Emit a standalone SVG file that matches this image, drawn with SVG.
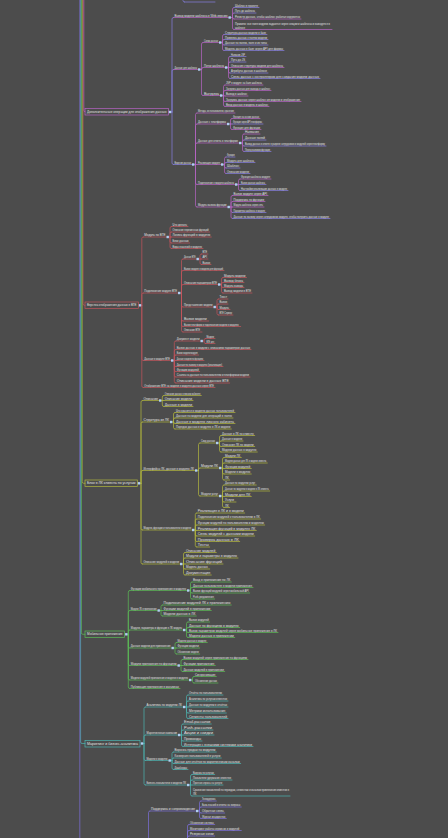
<svg xmlns="http://www.w3.org/2000/svg" width="448" height="838" viewBox="0 0 448 838">
<style>
text{font-family:"Liberation Sans","DejaVu Sans",sans-serif;font-size:2.9px;fill:#e2e2e2}
.rt{font-size:3.3px}
path{fill:none;stroke-width:0.7;stroke-linecap:round}
rect.b{fill:none;stroke-width:0.7}
.c1{stroke:#b864c6}.v1{stroke:#8680e2}.c2{stroke:#c4555c}.c3{stroke:#b3b83e}.c4{stroke:#5cbc56}.c5{stroke:#4cb5b1}.c6{stroke:#7d70dc}
.dot{fill:#b0cff2}
</style>
<rect x="0" y="0" width="448" height="838" fill="#4c4c4c"/>
<g id="connectors">
<path class="c1" d="M83.8,0V110.3Q83.8,111.8 85,111.8"/>
<path class="c2" d="M83,0V303.8Q83,305.3 84.5,305.3H85"/>
<path class="c3" d="M82.2,0V481.8Q82.2,483.3 83.7,483.3H85"/>
<path class="c4" d="M81.4,0V632.8Q81.4,634.3 82.9,634.3H85"/>
<path class="c5" d="M80.6,0V742Q80.6,743.5 82.1,743.5H85"/>
<path class="c6" d="M79.8,0V838"/>
<path class="v1" d="M183,0V0.5Q183,2 184.5,2"/>
<path class="v1" d="M171.2,112H172 M172,112V19Q172,17.5 173.5,17.5 M172,112V71Q172,69.5 173.5,69.5 M172,112V163Q172,164.5 173.5,164.5"/>
<path class="c1" d="M230.9,17.5H232.5 M232.5,17.5V9Q232.5,7.5 234,7.5 M232.5,17.5V14.5Q232.5,13 234,13 M232.5,17.5Q232.5,19 234,19 M232.5,17.5V28Q232.5,29.5 234,29.5"/>
<path class="c1" d="M200.4,69.5H201.5 M201.5,69.5V44Q201.5,42.5 203,42.5 M201.5,69.5Q201.5,67.5 203,67.5 M201.5,69.5V94Q201.5,95.5 203,95.5"/>
<path class="c1" d="M221.4,42.5H222.5 M222.5,42.5V36Q222.5,34.5 224,34.5 M222.5,42.5V41Q222.5,39.5 224,39.5 M222.5,42.5V43.5Q222.5,45 224,45 M222.5,42.5V49Q222.5,50.5 224,50.5"/>
<path class="c1" d="M227.4,67.5H228.5 M228.5,67.5V58Q228.5,56.5 230,56.5 M228.5,67.5V63.5Q228.5,62 230,62 M228.5,67.5H230 M228.5,67.5V71.5Q228.5,73 230,73 M228.5,67.5V77Q228.5,78.5 230,78.5"/>
<path class="c1" d="M222.4,95.5H223.5 M223.5,95.5V86.5Q223.5,85 225,85 M223.5,95.5V92Q223.5,90.5 225,90.5 M223.5,95.5Q223.5,96 225,96 M223.5,95.5V100Q223.5,101.5 225,101.5 M223.5,95.5V105Q223.5,106.5 225,106.5"/>
<path class="c1" d="M194.4,164.5H195.5 M195.5,164.5V114.5Q195.5,113 197,113 M195.5,164.5V125.5Q195.5,124 197,124 M195.5,164.5V144.5Q195.5,143 197,143 M195.5,164.5H197 M195.5,164.5V183Q195.5,184.5 197,184.5 M195.5,164.5V205.5Q195.5,207 197,207"/>
<path class="c1" d="M229.4,124H230.5 M230.5,124V120Q230.5,118.5 232,118.5 M230.5,124H232 M230.5,124V128Q230.5,129.5 232,129.5"/>
<path class="c1" d="M241.4,143H242.5 M242.5,143V135.5Q242.5,134 244,134 M242.5,143V141.5Q242.5,140 244,140 M242.5,143V144.5Q242.5,146 244,146 M242.5,143V150Q242.5,151.5 244,151.5"/>
<path class="c1" d="M223.4,164.5H224.5 M224.5,164.5V158.5Q224.5,157 226,157 M224.5,164.5V164Q224.5,162.5 226,162.5 M224.5,164.5V166.5Q224.5,168 226,168 M224.5,164.5V172Q224.5,173.5 226,173.5"/>
<path class="c1" d="M237.4,184.5H238.5 M238.5,184.5V180.5Q238.5,179 240,179 M238.5,184.5H240 M238.5,184.5V189Q238.5,190.5 240,190.5"/>
<path class="c1" d="M229.9,207H231 M231,207V197Q231,195.5 232.5,195.5 M231,207V203Q231,201.5 232.5,201.5 M231,207H232.5 M231,207V211Q231,212.5 232.5,212.5 M231,207V217Q231,218.5 232.5,218.5"/>
<path class="c2" d="M141.2,305.3H141.8 M141.8,305.3V238.5Q141.8,237 143.3,237 M141.8,305.3V294.5Q141.8,293 143.3,293 M141.8,305.3V359Q141.8,360.5 143.3,360.5 M141.8,305.3V386Q141.8,387.5 143.3,387.5"/>
<path class="c2" d="M168.9,237H170 M170,237V228Q170,226.5 171.5,226.5 M170,237V233.5Q170,232 171.5,232 M170,237H171.5 M170,237V241.5Q170,243 171.5,243 M170,237V247Q170,248.5 171.5,248.5"/>
<path class="c2" d="M180.4,293H181.5 M181.5,293V260.5Q181.5,259 183,259 M181.5,293V272Q181.5,270.5 183,270.5 M181.5,293V286Q181.5,284.5 183,284.5 M181.5,293V305.5Q181.5,307 183,307 M181.5,293V319.5Q181.5,321 183,321 M181.5,293V325Q181.5,326.5 183,326.5 M181.5,293V330.5Q181.5,332 183,332"/>
<path class="c2" d="M198.9,259H200 M200,259V255.5Q200,254 201.5,254 M200,259H201.5 M200,259V263Q200,264.5 201.5,264.5"/>
<path class="c2" d="M220.4,284.5H221.5 M221.5,284.5V279Q221.5,277.5 223,277.5 M221.5,284.5V284Q221.5,282.5 223,282.5 M221.5,284.5V286Q221.5,287.5 223,287.5 M221.5,284.5V291.5Q221.5,293 223,293"/>
<path class="c2" d="M215.9,307H217 M217,307V300.5Q217,299 218.5,299 M217,307V305.5Q217,304 218.5,304 M217,307V308Q217,309.5 218.5,309.5 M217,307V313.5Q217,315 218.5,315"/>
<path class="c2" d="M173.4,360.5H174.3 M174.3,360.5V342.5Q174.3,341 175.8,341 M174.3,360.5V351Q174.3,349.5 175.8,349.5 M174.3,360.5V356.5Q174.3,355 175.8,355 M174.3,360.5H175.8 M174.3,360.5V365Q174.3,366.5 175.8,366.5 M174.3,360.5V370Q174.3,371.5 175.8,371.5 M174.3,360.5V375.5Q174.3,377 175.8,377 M174.3,360.5V381.5Q174.3,383 175.8,383"/>
<path class="c2" d="M202.9,341H204 M204,341V340Q204,338.5 205.5,338.5 M204,341V342Q204,343.5 205.5,343.5"/>
<path class="c3" d="M140.2,483.3H141 M141,483.3V402Q141,400.5 142.5,400.5 M141,483.3V423.5Q141,422 142.5,422 M141,483.3V472Q141,470.5 142.5,470.5 M141,483.3V528.5Q141,530 142.5,530 M141,483.3V562.5Q141,564 142.5,564"/>
<path class="c3" d="M161.4,400.5H162.3 M162.3,400.5V397Q162.3,395.5 163.8,395.5 M162.3,400.5H163.8 M162.3,400.5V405Q162.3,406.5 163.8,406.5"/>
<path class="c3" d="M172.4,422H173.5 M173.5,422V414Q173.5,412.5 175,412.5 M173.5,422V419.5Q173.5,418 175,418 M173.5,422Q173.5,423.5 175,423.5 M173.5,422V427.5Q173.5,429 175,429"/>
<path class="c3" d="M197.4,470.5H198.5 M198.5,470.5V444.5Q198.5,443 200,443 M198.5,470.5V469.5Q198.5,468 200,468 M198.5,470.5V494.5Q198.5,496 200,496"/>
<path class="c3" d="M218.4,443H219.5 M219.5,443V437Q219.5,435.5 221,435.5 M219.5,443V442.5Q219.5,441 221,441 M219.5,443V445Q219.5,446.5 221,446.5 M219.5,443V450.5Q219.5,452 221,452"/>
<path class="c3" d="M221.4,468H222.5 M222.5,468V459Q222.5,457.5 224,457.5 M222.5,468V464.5Q222.5,463 224,463 M222.5,468Q222.5,468.5 224,468.5 M222.5,468V472.5Q222.5,474 224,474 M222.5,468V478.5Q222.5,480 224,480"/>
<path class="c3" d="M221.4,496H222.5 M222.5,496V486.5Q222.5,485 224,485 M222.5,496V492.5Q222.5,491 224,491 M222.5,496Q222.5,496.5 224,496.5 M222.5,496V500.5Q222.5,502 224,502 M222.5,496V506Q222.5,507.5 224,507.5"/>
<path class="c3" d="M194.4,530H195.3 M195.3,530V514.5Q195.3,513 196.8,513 M195.3,530V520.5Q195.3,519 196.8,519 M195.3,530V526.5Q195.3,525 196.8,525 M195.3,530Q195.3,530.5 196.8,530.5 M195.3,530V534.5Q195.3,536 196.8,536 M195.3,530V540Q195.3,541.5 196.8,541.5 M195.3,530V545.5Q195.3,547 196.8,547"/>
<path class="c3" d="M182.4,564H183.5 M183.5,564V554Q183.5,552.5 185,552.5 M183.5,564V559.5Q183.5,558 185,558 M183.5,564H185 M183.5,564V567.5Q183.5,569 185,569 M183.5,564V573.5Q183.5,575 185,575"/>
<path class="c4" d="M127.5,634.3H128.3 M128.3,634.3V592Q128.3,590.5 129.8,590.5 M128.3,634.3V612Q128.3,610.5 129.8,610.5 M128.3,634.3V631.5Q128.3,630 129.8,630 M128.3,634.3V646.5Q128.3,648 129.8,648 M128.3,634.3V664Q128.3,665.5 129.8,665.5 M128.3,634.3V678.5Q128.3,680 129.8,680 M128.3,634.3V687Q128.3,688.5 129.8,688.5"/>
<path class="c4" d="M189.4,590.5H190.5 M190.5,590.5V583.5Q190.5,582 192,582 M190.5,590.5V589Q190.5,587.5 192,587.5 M190.5,590.5V591.5Q190.5,593 192,593 M190.5,590.5V597.5Q190.5,599 192,599"/>
<path class="c4" d="M159.9,610.5H161 M161,610.5V606.5Q161,605 162.5,605 M161,610.5H162.5 M161,610.5V614.5Q161,616 162.5,616"/>
<path class="c4" d="M185.4,630H186.5 M186.5,630V623.5Q186.5,622 188,622 M186.5,630V629Q186.5,627.5 188,627.5 M186.5,630V631Q186.5,632.5 188,632.5 M186.5,630V636Q186.5,637.5 188,637.5"/>
<path class="c4" d="M173.9,648H175 M175,648V644Q175,642.5 176.5,642.5 M175,648H176.5 M175,648V652.5Q175,654 176.5,654"/>
<path class="c4" d="M179.9,665.5H181 M181,665.5V661Q181,659.5 182.5,659.5 M181,665.5H182.5 M181,665.5V670Q181,671.5 182.5,671.5"/>
<path class="c4" d="M191.4,680H192.5 M192.5,680V678Q192.5,676.5 194,676.5 M192.5,680V681.5Q192.5,683 194,683"/>
<path class="c5" d="M143.2,743.5H144 M144,743.5V708.5Q144,707 145.5,707 M144,743.5V736.5Q144,735 145.5,735 M144,743.5V759Q144,760.5 145.5,760.5 M144,743.5V783.5Q144,785 145.5,785"/>
<path class="c5" d="M185.4,707H186.5 M186.5,707V696.5Q186.5,695 188,695 M186.5,707V702.5Q186.5,701 188,701 M186.5,707H188 M186.5,707V711.5Q186.5,713 188,713 M186.5,707V717Q186.5,718.5 188,718.5"/>
<path class="c5" d="M180.4,735H181.5 M181.5,735V725.5Q181.5,724 183,724 M181.5,735V731.5Q181.5,730 183,730 M181.5,735H183 M181.5,735V739.5Q181.5,741 183,741 M181.5,735V745Q181.5,746.5 183,746.5"/>
<path class="c5" d="M170.9,760.5H172 M172,760.5V753.5Q172,752 173.5,752 M172,760.5V759.5Q172,758 173.5,758 M172,760.5V762Q172,763.5 173.5,763.5 M172,760.5V768Q172,769.5 173.5,769.5"/>
<path class="c5" d="M189.4,785H190.5 M190.5,785V776Q190.5,774.5 192,774.5 M190.5,785V781.5Q190.5,780 192,780 M190.5,785H192 M190.5,785V794.5Q190.5,796 192,796"/>
<path class="c6" d="M148.5,838V812.5Q148.5,811 150,811"/>
<path class="c6" d="M198.4,811H199.5 M199.5,811V802.5Q199.5,801 201,801 M199.5,811V808.5Q199.5,807 201,807 M199.5,811V811.5Q199.5,813 201,813 M199.5,811V817Q199.5,818.5 201,818.5"/>
<path class="c6" d="M187.5,838V826Q187.5,824.5 189,824.5 M187.5,838V832Q187.5,830.5 189,830.5 M187.5,838V837.5Q187.5,836 189,836"/>
</g>
<g id="top-stub"><path class="v1" d="M184.5,2H215"/></g>
<g id="root1"><rect class="b c1" x="85" y="108.5" width="83.5" height="6.5"/><text class="rt" x="87" y="113" textLength="79.5" lengthAdjust="spacingAndGlyphs">Дополнительные операции для отображения данных</text><rect class="dot" x="168.8" y="110.8" width="2.4" height="2.4"/></g>
<g id="n1a"><text x="174.5" y="16.6" textLength="53" lengthAdjust="spacingAndGlyphs">Вывод модели шаблона в Web-версию</text><path class="c1" d="M173.5,17.5H228.5"/><rect class="dot" x="228.5" y="16.3" width="2.4" height="2.4"/></g>
<g id="n1a1"><text x="235" y="6.6" textLength="23" lengthAdjust="spacingAndGlyphs">Шаблон в проекте</text><path class="v1" d="M234,7.5H259"/></g>
<g id="n1a2"><text x="235" y="12.1" textLength="20" lengthAdjust="spacingAndGlyphs">Путь до шаблона</text><path class="v1" d="M234,13H256"/></g>
<g id="n1a3"><text x="235" y="18.1" textLength="65" lengthAdjust="spacingAndGlyphs">Регистр данных, чтобы шаблон работал корректно</text><path class="c1" d="M234,19H301"/></g>
<g id="n1a4"><text x="235" y="24.6" textLength="95" lengthAdjust="spacingAndGlyphs">Правило: все поля модели задаются через секции и шаблоны и выводятся в</text><text x="235" y="28.6" textLength="10" lengthAdjust="spacingAndGlyphs">шаблоне</text><path class="c1" d="M234,29.5H332"/></g>
<g id="n1b"><text x="174.5" y="68.6" textLength="22.5" lengthAdjust="spacingAndGlyphs">Данные для шаблона</text><path class="c1" d="M173.5,69.5H198"/><rect class="dot" x="198" y="68.3" width="2.4" height="2.4"/></g>
<g id="n1b1"><text x="204" y="41.6" textLength="14" lengthAdjust="spacingAndGlyphs">Схема данных</text><path class="c1" d="M203,42.5H219"/><rect class="dot" x="219" y="41.3" width="2.4" height="2.4"/></g>
<g id="n1b1a"><text x="225" y="33.6" textLength="41" lengthAdjust="spacingAndGlyphs">Структура данных модели в базе</text><path class="v1" d="M224,34.5H267"/></g>
<g id="n1b1b"><text x="225" y="38.6" textLength="42" lengthAdjust="spacingAndGlyphs">Привязка данных к полям модели</text><path class="v1" d="M224,39.5H268"/></g>
<g id="n1b1c"><text x="225" y="44.1" textLength="42" lengthAdjust="spacingAndGlyphs">Данные по полям, поля и их типы</text><path class="v1" d="M224,45H268"/></g>
<g id="n1b1d"><text x="225" y="49.6" textLength="58" lengthAdjust="spacingAndGlyphs">Модель данных в базе через API для формы</text><path class="v1" d="M224,50.5H284"/></g>
<g id="n1b2"><text x="204" y="66.6" textLength="20" lengthAdjust="spacingAndGlyphs">Поток шаблона</text><path class="c1" d="M203,67.5H225"/><rect class="dot" x="225" y="66.3" width="2.4" height="2.4"/></g>
<g id="n1b2a"><text x="231" y="55.6" textLength="14" lengthAdjust="spacingAndGlyphs">Название JSP</text><path class="v1" d="M230,56.5H246"/></g>
<g id="n1b2b"><text x="231" y="61.1" textLength="14" lengthAdjust="spacingAndGlyphs">Путь до JS</text><path class="v1" d="M230,62H246"/></g>
<g id="n1b2c"><text x="231" y="66.6" textLength="52" lengthAdjust="spacingAndGlyphs">Описание структуры модели для шаблона</text><path class="c1" d="M230,67.5H284"/></g>
<g id="n1b2d"><text x="231" y="72.1" textLength="36" lengthAdjust="spacingAndGlyphs">Атрибуты данных в шаблоне</text><path class="v1" d="M230,73H268"/></g>
<g id="n1b2e"><text x="231" y="77.6" textLength="88" lengthAdjust="spacingAndGlyphs">Связь данных с контроллером для создания модели данных</text><path class="v1" d="M230,78.5H320"/></g>
<g id="n1b3"><text x="204" y="94.6" textLength="15" lengthAdjust="spacingAndGlyphs">Выгрузка</text><path class="c1" d="M203,95.5H220"/><rect class="dot" x="220" y="94.3" width="2.4" height="2.4"/></g>
<g id="n1b3a"><text x="226" y="84.1" textLength="36" lengthAdjust="spacingAndGlyphs">JSP в модуле на базе шаблона</text><path class="c1" d="M225,85H263"/></g>
<g id="n1b3b"><text x="226" y="89.6" textLength="44" lengthAdjust="spacingAndGlyphs">Загрузка данных для вывода в шаблон</text><path class="c1" d="M225,90.5H271"/></g>
<g id="n1b3c"><text x="226" y="95.1" textLength="21" lengthAdjust="spacingAndGlyphs">Вывод в шаблон</text><path class="c1" d="M225,96H248"/></g>
<g id="n1b3d"><text x="226" y="100.6" textLength="74" lengthAdjust="spacingAndGlyphs">Загрузка данных через шаблон из модели и отображение</text><path class="c1" d="M225,101.5H301"/></g>
<g id="n1b3e"><text x="226" y="105.6" textLength="42" lengthAdjust="spacingAndGlyphs">Ввод данных в модель и шаблон</text><path class="c1" d="M225,106.5H269"/></g>
<g id="n1c"><text x="174.5" y="163.6" textLength="16.5" lengthAdjust="spacingAndGlyphs">Ведение данных</text><path class="v1" d="M173.5,164.5H192"/><rect class="dot" x="192" y="163.3" width="2.4" height="2.4"/></g>
<g id="n1c0"><text x="198" y="112.1" textLength="36" lengthAdjust="spacingAndGlyphs">Методы, их пользователи, хранение</text><path class="c1" d="M197,113H235"/></g>
<g id="n1c1"><text x="198" y="123.1" textLength="28" lengthAdjust="spacingAndGlyphs">Данные с платформы</text><path class="c1" d="M197,124H227"/><rect class="dot" x="227" y="122.8" width="2.4" height="2.4"/></g>
<g id="n1c1a"><text x="233" y="117.6" textLength="26" lengthAdjust="spacingAndGlyphs">Функция на основе данных</text><path class="c1" d="M232,118.5H260"/></g>
<g id="n1c1b"><text x="233" y="123.1" textLength="29" lengthAdjust="spacingAndGlyphs">Функция через API платформы</text><path class="v1" d="M232,124H263"/></g>
<g id="n1c1c"><text x="233" y="128.6" textLength="27" lengthAdjust="spacingAndGlyphs">Функция для функции</text><path class="c1" d="M232,129.5H261"/></g>
<g id="n1c2"><text x="198" y="142.1" textLength="40" lengthAdjust="spacingAndGlyphs">Данные для ответа в платформе</text><path class="c1" d="M197,143H239"/><rect class="dot" x="239" y="141.8" width="2.4" height="2.4"/></g>
<g id="n1c2a"><text x="245" y="133.1" textLength="14" lengthAdjust="spacingAndGlyphs">Названия</text><path class="c1" d="M244,134H260"/></g>
<g id="n1c2b"><text x="245" y="139.1" textLength="20" lengthAdjust="spacingAndGlyphs">Данные полей</text><path class="v1" d="M244,140H266"/></g>
<g id="n1c2c"><text x="245" y="145.1" textLength="80" lengthAdjust="spacingAndGlyphs">Вывод данных в ответе в разрезе сотрудников и модулей через платформу</text><path class="v1" d="M244,146H326"/></g>
<g id="n1c2d"><text x="245" y="150.6" textLength="25" lengthAdjust="spacingAndGlyphs">Перед вызовом функции</text><path class="v1" d="M244,151.5H271"/></g>
<g id="n1c3"><text x="198" y="163.6" textLength="22" lengthAdjust="spacingAndGlyphs">Реализация модуля</text><path class="c1" d="M197,164.5H221"/><rect class="dot" x="221" y="163.3" width="2.4" height="2.4"/></g>
<g id="n1c3a"><text x="227" y="156.1" textLength="7.5" lengthAdjust="spacingAndGlyphs">Функции</text><path class="v1" d="M226,157H235"/></g>
<g id="n1c3b"><text x="227" y="161.6" textLength="27" lengthAdjust="spacingAndGlyphs">Модуль для шаблона</text><path class="v1" d="M226,162.5H255"/></g>
<g id="n1c3c"><text x="227" y="167.1" textLength="12" lengthAdjust="spacingAndGlyphs">Шаблон</text><path class="v1" d="M226,168H240"/></g>
<g id="n1c3d"><text x="227" y="172.6" textLength="22" lengthAdjust="spacingAndGlyphs">Описание модели</text><path class="v1" d="M226,173.5H250"/></g>
<g id="n1c4"><text x="198" y="183.6" textLength="36" lengthAdjust="spacingAndGlyphs">Подключение к модулю шаблона</text><path class="c1" d="M197,184.5H235"/><rect class="dot" x="235" y="183.3" width="2.4" height="2.4"/></g>
<g id="n1c4a"><text x="241" y="178.1" textLength="29" lengthAdjust="spacingAndGlyphs">Функция шаблона модуля</text><path class="c1" d="M240,179H271"/></g>
<g id="n1c4b"><text x="241" y="183.6" textLength="24" lengthAdjust="spacingAndGlyphs">Вызов данных шаблона</text><path class="v1" d="M240,184.5H266"/></g>
<g id="n1c4c"><text x="241" y="189.6" textLength="46" lengthAdjust="spacingAndGlyphs">Настройки реализации данных в модуле</text><path class="v1" d="M240,190.5H288"/></g>
<g id="n1c5"><text x="198" y="206.1" textLength="28.5" lengthAdjust="spacingAndGlyphs">Модуль вызова функции</text><path class="c1" d="M197,207H227.5"/><rect class="dot" x="227.5" y="205.8" width="2.4" height="2.4"/></g>
<g id="n1c5a"><text x="233.5" y="194.6" textLength="33.5" lengthAdjust="spacingAndGlyphs">Вызов модуля через API</text><path class="c1" d="M232.5,195.5H268"/></g>
<g id="n1c5b"><text x="233.5" y="200.6" textLength="30.5" lengthAdjust="spacingAndGlyphs">Поддержка по функции</text><path class="c1" d="M232.5,201.5H265"/></g>
<g id="n1c5c"><text x="233.5" y="206.1" textLength="29.5" lengthAdjust="spacingAndGlyphs">Модуль шаблона через сеть</text><path class="c1" d="M232.5,207H264"/></g>
<g id="n1c5d"><text x="233.5" y="211.6" textLength="31.5" lengthAdjust="spacingAndGlyphs">Параметры шаблона в модуле</text><path class="v1" d="M232.5,212.5H266"/></g>
<g id="n1c5e"><text x="233.5" y="217.6" textLength="95.5" lengthAdjust="spacingAndGlyphs">Данные по вызову через сотрудников модуля, чтобы получить данные в модуле</text><path class="v1" d="M232.5,218.5H330"/></g>
<g id="root2"><rect class="b c2" x="85" y="302" width="53.5" height="6.5"/><text class="rt" x="87" y="306.4" textLength="49.5" lengthAdjust="spacingAndGlyphs">Верстка отображения данных в ВТЕ</text><rect class="dot" x="138.8" y="304.1" width="2.4" height="2.4"/></g>
<g id="n2a"><text x="144.3" y="236.1" textLength="21.2" lengthAdjust="spacingAndGlyphs">Модуль по ВТЕ</text><path class="c2" d="M143.3,237H166.5"/><rect class="dot" x="166.5" y="235.8" width="2.4" height="2.4"/></g>
<g id="n2a1"><text x="172.5" y="225.6" textLength="14.5" lengthAdjust="spacingAndGlyphs">Что делать</text><path class="c2" d="M171.5,226.5H188"/></g>
<g id="n2a2"><text x="172.5" y="231.1" textLength="36.2" lengthAdjust="spacingAndGlyphs">Описание переменных функций</text><path class="c2" d="M171.5,232H209.7"/></g>
<g id="n2a3"><text x="172.5" y="236.1" textLength="37.8" lengthAdjust="spacingAndGlyphs">Логика функций в модулях</text><path class="c2" d="M171.5,237H211.3"/></g>
<g id="n2a4"><text x="172.5" y="242.1" textLength="16.2" lengthAdjust="spacingAndGlyphs">Блок данных</text><path class="c2" d="M171.5,243H189.7"/></g>
<g id="n2a5"><text x="172.5" y="247.6" textLength="29.5" lengthAdjust="spacingAndGlyphs">Виды значений в модулях</text><path class="c2" d="M171.5,248.5H203"/></g>
<g id="n2b"><text x="144.3" y="292.1" textLength="32.7" lengthAdjust="spacingAndGlyphs">Подключение модуля ВТЕ</text><path class="c2" d="M143.3,293H178"/><rect class="dot" x="178" y="291.8" width="2.4" height="2.4"/></g>
<g id="n2b1"><text x="184" y="258.1" textLength="11.5" lengthAdjust="spacingAndGlyphs">Данные ВТЕ</text><path class="c2" d="M183,259H196.5"/><rect class="dot" x="196.5" y="257.8" width="2.4" height="2.4"/></g>
<g id="n2b1a"><text x="202.5" y="253.1" textLength="4.5" lengthAdjust="spacingAndGlyphs">ВТЕ</text><path class="c2" d="M201.5,254H208"/></g>
<g id="n2b1b"><text x="202.5" y="258.1" textLength="4.5" lengthAdjust="spacingAndGlyphs">API</text><path class="c2" d="M201.5,259H208"/></g>
<g id="n2b1c"><text x="202.5" y="263.6" textLength="7.5" lengthAdjust="spacingAndGlyphs">Вызов</text><path class="c2" d="M201.5,264.5H211"/></g>
<g id="n2b2"><text x="184" y="269.6" textLength="39" lengthAdjust="spacingAndGlyphs">Вызов модуля в модели для функций</text><path class="c2" d="M183,270.5H224"/></g>
<g id="n2b3"><text x="184" y="283.6" textLength="33" lengthAdjust="spacingAndGlyphs">Описание параметров ВТЕ</text><path class="c2" d="M183,284.5H218"/><rect class="dot" x="218" y="283.3" width="2.4" height="2.4"/></g>
<g id="n2b3a"><text x="224" y="276.6" textLength="21.5" lengthAdjust="spacingAndGlyphs">Модуль модели</text><path class="c2" d="M223,277.5H246.5"/></g>
<g id="n2b3b"><text x="224" y="281.6" textLength="19" lengthAdjust="spacingAndGlyphs">Вывод блока</text><path class="c2" d="M223,282.5H244"/></g>
<g id="n2b3c"><text x="224" y="286.6" textLength="19" lengthAdjust="spacingAndGlyphs">Модуль вывода</text><path class="c2" d="M223,287.5H244"/></g>
<g id="n2b3d"><text x="224" y="292.1" textLength="27" lengthAdjust="spacingAndGlyphs">Вывод модели в ВТЕ</text><path class="c2" d="M223,293H252"/></g>
<g id="n2b4"><text x="184" y="306.1" textLength="28.5" lengthAdjust="spacingAndGlyphs">Представление модели</text><path class="c2" d="M183,307H213.5"/><rect class="dot" x="213.5" y="305.8" width="2.4" height="2.4"/></g>
<g id="n2b4a"><text x="219.5" y="298.1" textLength="7.5" lengthAdjust="spacingAndGlyphs">Текст</text><path class="c2" d="M218.5,299H228"/></g>
<g id="n2b4b"><text x="219.5" y="303.1" textLength="7.5" lengthAdjust="spacingAndGlyphs">Вызов</text><path class="c2" d="M218.5,304H228"/></g>
<g id="n2b4c"><text x="219.5" y="308.6" textLength="9.5" lengthAdjust="spacingAndGlyphs">Модуль</text><path class="c2" d="M218.5,309.5H230"/></g>
<g id="n2b4d"><text x="219.5" y="314.1" textLength="12.5" lengthAdjust="spacingAndGlyphs">ВТЕ Сервер</text><path class="c2" d="M218.5,315H233"/></g>
<g id="n2b5"><text x="184" y="320.1" textLength="22.7" lengthAdjust="spacingAndGlyphs">Вызов модели</text><path class="c2" d="M183,321H208.7"/></g>
<g id="n2b6"><text x="184" y="325.6" textLength="54.7" lengthAdjust="spacingAndGlyphs">Вызов платформ и подключение модели в модулях</text><path class="c2" d="M183,326.5H240.7"/></g>
<g id="n2b7"><text x="184" y="331.1" textLength="16" lengthAdjust="spacingAndGlyphs">Описание ВТЕ</text><path class="c2" d="M183,332H202"/></g>
<g id="n2c"><text x="144.3" y="359.6" textLength="25.7" lengthAdjust="spacingAndGlyphs">Данные в модуле ВТЕ</text><path class="c2" d="M143.3,360.5H171"/><rect class="dot" x="171" y="359.3" width="2.4" height="2.4"/></g>
<g id="n2c1"><text x="176.8" y="340.1" textLength="22.7" lengthAdjust="spacingAndGlyphs">Документ модели</text><path class="c2" d="M175.8,341H200.5"/><rect class="dot" x="200.5" y="339.8" width="2.4" height="2.4"/></g>
<g id="n2c1a"><text x="206.5" y="337.6" textLength="7.5" lengthAdjust="spacingAndGlyphs">Модули</text><path class="c2" d="M205.5,338.5H215"/></g>
<g id="n2c1b"><text x="206.5" y="342.6" textLength="7.5" lengthAdjust="spacingAndGlyphs">ВТЕ для</text><path class="c2" d="M205.5,343.5H215"/></g>
<g id="n2c2"><text x="176.8" y="348.6" textLength="73.2" lengthAdjust="spacingAndGlyphs">Вызов данных в модули с описанием параметров данных</text><path class="c2" d="M175.8,349.5H251"/></g>
<g id="n2c3"><text x="176.8" y="354.1" textLength="20.9" lengthAdjust="spacingAndGlyphs">Вызов модели модуля</text><path class="c2" d="M175.8,355H198.7"/></g>
<g id="n2c4"><text x="176.8" y="359.6" textLength="26.2" lengthAdjust="spacingAndGlyphs">Данные в модели по функциям</text><path class="c2" d="M175.8,360.5H204"/></g>
<g id="n2c5"><text x="176.8" y="365.6" textLength="45.2" lengthAdjust="spacingAndGlyphs">Данные по вызову в модулях (реализация)</text><path class="c2" d="M175.8,366.5H223"/></g>
<g id="n2c6"><text x="176.8" y="370.6" textLength="21.9" lengthAdjust="spacingAndGlyphs">Функции модулей</text><path class="c2" d="M175.8,371.5H199.7"/></g>
<g id="n2c7"><text x="176.8" y="376.1" textLength="72.2" lengthAdjust="spacingAndGlyphs">Ссылка на данные по пользователям и платформам модели</text><path class="c2" d="M175.8,377H250"/></g>
<g id="n2c8"><text x="176.8" y="382.1" textLength="51.9" lengthAdjust="spacingAndGlyphs">Описание модели в данных ВТЕ</text><path class="c2" d="M175.8,383H229.7"/></g>
<g id="n2d"><text x="144.3" y="386.6" textLength="69.7" lengthAdjust="spacingAndGlyphs">Отображение ВТЕ на модели в модулях данных через ВТЕ</text><path class="c2" d="M143.3,387.5H215"/></g>
<g id="root3"><rect class="b c3" x="85" y="480" width="52.3" height="6.5"/><text class="rt" x="87" y="484.4" textLength="48.3" lengthAdjust="spacingAndGlyphs">Блок в ЛК клиента по услугам</text><rect class="dot" x="137.8" y="482.1" width="2.4" height="2.4"/></g>
<g id="n3a"><text x="143.5" y="399.6" textLength="14.5" lengthAdjust="spacingAndGlyphs">Описание</text><path class="c3" d="M142.5,400.5H159"/><rect class="dot" x="159" y="399.3" width="2.4" height="2.4"/></g>
<g id="n3a1"><text x="164.8" y="394.6" textLength="35.5" lengthAdjust="spacingAndGlyphs">Описание данных в личном кабинете</text><path class="c3" d="M163.8,395.5H201.3"/></g>
<g id="n3a2"><text x="164.8" y="399.6" textLength="27.2" lengthAdjust="spacingAndGlyphs">Описание модели</text><path class="c3" d="M163.8,400.5H193"/></g>
<g id="n3a3"><text x="164.8" y="405.6" textLength="27.2" lengthAdjust="spacingAndGlyphs">Данные в модели</text><path class="c3" d="M163.8,406.5H193"/></g>
<g id="n3b"><text x="143.5" y="421.1" textLength="25.5" lengthAdjust="spacingAndGlyphs">Структура из ЛК</text><path class="c3" d="M142.5,422H170"/><rect class="dot" x="170" y="420.8" width="2.4" height="2.4"/></g>
<g id="n3b1"><text x="176" y="411.6" textLength="58" lengthAdjust="spacingAndGlyphs">Что хранится в моделях данных пользователей</text><path class="c3" d="M175,412.5H235"/></g>
<g id="n3b2"><text x="176" y="417.1" textLength="56" lengthAdjust="spacingAndGlyphs">Данные по модели для операций в полях</text><path class="c3" d="M175,418H233"/></g>
<g id="n3b3"><text x="176" y="422.6" textLength="58" lengthAdjust="spacingAndGlyphs">Данные в модулях личного кабинета</text><path class="c3" d="M175,423.5H235"/></g>
<g id="n3b4"><text x="176" y="428.1" textLength="54.3" lengthAdjust="spacingAndGlyphs">Порядок данных в модулях в ЛК и модели</text><path class="c3" d="M175,429H231.3"/></g>
<g id="n3c"><text x="143.5" y="469.6" textLength="50.5" lengthAdjust="spacingAndGlyphs">Интерфейсы ЛК, данные в модулях ЛК</text><path class="c3" d="M142.5,470.5H195"/><rect class="dot" x="195" y="469.3" width="2.4" height="2.4"/></g>
<g id="n3c1"><text x="201" y="442.1" textLength="14" lengthAdjust="spacingAndGlyphs">Свод данных</text><path class="c3" d="M200,443H216"/><rect class="dot" x="216" y="441.8" width="2.4" height="2.4"/></g>
<g id="n3c1a"><text x="222" y="434.6" textLength="31.7" lengthAdjust="spacingAndGlyphs">Данные в ЛК по клиенту</text><path class="c3" d="M221,435.5H254.7"/></g>
<g id="n3c1b"><text x="222" y="440.1" textLength="20" lengthAdjust="spacingAndGlyphs">Данные в модели</text><path class="c3" d="M221,441H243"/></g>
<g id="n3c1c"><text x="222" y="445.6" textLength="31.7" lengthAdjust="spacingAndGlyphs">Описание ЛК по модели</text><path class="c3" d="M221,446.5H254.7"/></g>
<g id="n3c1d"><text x="222" y="451.1" textLength="34.3" lengthAdjust="spacingAndGlyphs">Модели данных в модулях</text><path class="c3" d="M221,452H257.3"/></g>
<g id="n3c2"><text x="201" y="467.1" textLength="17" lengthAdjust="spacingAndGlyphs">Модули ЛК</text><path class="c3" d="M200,468H219"/><rect class="dot" x="219" y="466.8" width="2.4" height="2.4"/></g>
<g id="n3c2a"><text x="225" y="456.6" textLength="15.3" lengthAdjust="spacingAndGlyphs">Модули ЛК</text><path class="c3" d="M224,457.5H241.3"/></g>
<g id="n3c2b"><text x="225" y="462.1" textLength="41.3" lengthAdjust="spacingAndGlyphs">Модули данных для ЛК в модели клиента</text><path class="c3" d="M224,463H267.3"/></g>
<g id="n3c2c"><text x="225" y="467.6" textLength="25.3" lengthAdjust="spacingAndGlyphs">Функции модулей</text><path class="c3" d="M224,468.5H251.3"/></g>
<g id="n3c2d"><text x="225" y="473.1" textLength="25.3" lengthAdjust="spacingAndGlyphs">Модели в модулях</text><path class="c3" d="M224,474H251.3"/></g>
<g id="n3c2e"><text x="225" y="479.1" textLength="3.7" lengthAdjust="spacingAndGlyphs">ЛК</text><path class="c3" d="M224,480H229.7"/></g>
<g id="n3c3"><text x="201" y="495.1" textLength="17" lengthAdjust="spacingAndGlyphs">Модули услуг</text><path class="c3" d="M200,496H219"/><rect class="dot" x="219" y="494.8" width="2.4" height="2.4"/></g>
<g id="n3c3a"><text x="225" y="484.1" textLength="30.3" lengthAdjust="spacingAndGlyphs">Данные по модулям услуг</text><path class="c3" d="M224,485H256.3"/></g>
<g id="n3c3b"><text x="225" y="490.1" textLength="43.7" lengthAdjust="spacingAndGlyphs">Данные по модулям в модели в ЛК клиента</text><path class="c3" d="M224,491H269.7"/></g>
<g id="n3c3c"><text x="225" y="495.6" textLength="25.3" lengthAdjust="spacingAndGlyphs">Модули для ЛК</text><path class="c3" d="M224,496.5H251.3"/></g>
<g id="n3c3d"><text x="225" y="501.1" textLength="9" lengthAdjust="spacingAndGlyphs">Услуги</text><path class="c3" d="M224,502H236"/></g>
<g id="n3c3e"><text x="225" y="506.6" textLength="3.7" lengthAdjust="spacingAndGlyphs">ЛК</text><path class="c3" d="M224,507.5H229.7"/></g>
<g id="n3d"><text x="143.5" y="529.1" textLength="47.5" lengthAdjust="spacingAndGlyphs">Модули, функции и пользователи в модели</text><path class="c3" d="M142.5,530H192"/><rect class="dot" x="192" y="528.8" width="2.4" height="2.4"/></g>
<g id="n3d1"><text x="197.8" y="512.1" textLength="45.9" lengthAdjust="spacingAndGlyphs">Реализация в ЛК и в модели</text><path class="c3" d="M196.8,513H244.7"/></g>
<g id="n3d2"><text x="197.8" y="518.1" textLength="61.9" lengthAdjust="spacingAndGlyphs">Подключение модулей к пользователям в ЛК</text><path class="c3" d="M196.8,519H260.7"/></g>
<g id="n3d3"><text x="197.8" y="524.1" textLength="65.9" lengthAdjust="spacingAndGlyphs">Функции модулей по пользователям и моделям</text><path class="c3" d="M196.8,525H264.7"/></g>
<g id="n3d4"><text x="197.8" y="529.6" textLength="57.5" lengthAdjust="spacingAndGlyphs">Реализация функций в модулях ЛК</text><path class="c3" d="M196.8,530.5H256.3"/></g>
<g id="n3d5"><text x="197.8" y="535.1" textLength="55.9" lengthAdjust="spacingAndGlyphs">Связь модулей с данными модели</text><path class="c3" d="M196.8,536H254.7"/></g>
<g id="n3d6"><text x="197.8" y="540.6" textLength="40.9" lengthAdjust="spacingAndGlyphs">Проверка данных в ЛК</text><path class="c3" d="M196.8,541.5H239.7"/></g>
<g id="n3d7"><text x="197.8" y="546.1" textLength="10.9" lengthAdjust="spacingAndGlyphs">Тесты</text><path class="c3" d="M196.8,547H209.7"/></g>
<g id="n3e"><text x="143.5" y="563.1" textLength="35.5" lengthAdjust="spacingAndGlyphs">Описание модулей в модели</text><path class="c3" d="M142.5,564H180"/><rect class="dot" x="180" y="562.8" width="2.4" height="2.4"/></g>
<g id="n3e1"><text x="186" y="551.6" textLength="29.3" lengthAdjust="spacingAndGlyphs">Описание модулей</text><path class="c3" d="M185,552.5H216.3"/></g>
<g id="n3e2"><text x="186" y="557.1" textLength="51" lengthAdjust="spacingAndGlyphs">Модули и параметры в модулях</text><path class="c3" d="M185,558H238"/></g>
<g id="n3e3"><text x="186" y="563.1" textLength="36" lengthAdjust="spacingAndGlyphs">Описание функций</text><path class="c3" d="M185,564H223"/></g>
<g id="n3e4"><text x="186" y="568.1" textLength="21.7" lengthAdjust="spacingAndGlyphs">Модель данных</text><path class="c3" d="M185,569H209.7"/></g>
<g id="n3e5"><text x="186" y="574.1" textLength="24.3" lengthAdjust="spacingAndGlyphs">Документация</text><path class="c3" d="M185,575H211.3"/></g>
<g id="root4"><rect class="b c4" x="85" y="631" width="39.5" height="6.5"/><text class="rt" x="87" y="635.4" textLength="35.5" lengthAdjust="spacingAndGlyphs">Мобильное приложение</text><rect class="dot" x="125.1" y="633.1" width="2.4" height="2.4"/></g>
<g id="n4a"><text x="130.8" y="589.6" textLength="55.2" lengthAdjust="spacingAndGlyphs">Функции мобильного приложения в модулях</text><path class="c4" d="M129.8,590.5H187"/><rect class="dot" x="187" y="589.3" width="2.4" height="2.4"/></g>
<g id="n4a1"><text x="193" y="581.1" textLength="37.3" lengthAdjust="spacingAndGlyphs">Вход в приложение по ЛК</text><path class="c4" d="M192,582H231.3"/></g>
<g id="n4a2"><text x="193" y="586.6" textLength="59" lengthAdjust="spacingAndGlyphs">Данные пользователя в модели приложения</text><path class="c4" d="M192,587.5H253"/></g>
<g id="n4a3"><text x="193" y="592.1" textLength="55.7" lengthAdjust="spacingAndGlyphs">Вызов функций модулей через мобильный API</text><path class="c4" d="M192,593H249.7"/></g>
<g id="n4a4"><text x="193" y="598.1" textLength="20.7" lengthAdjust="spacingAndGlyphs">Push-уведомления</text><path class="c4" d="M192,599H214.7"/></g>
<g id="n4b"><text x="130.8" y="609.6" textLength="25.7" lengthAdjust="spacingAndGlyphs">Модули ЛК в приложении</text><path class="c4" d="M129.8,610.5H157.5"/><rect class="dot" x="157.5" y="609.3" width="2.4" height="2.4"/></g>
<g id="n4b1"><text x="163.5" y="604.1" textLength="66.8" lengthAdjust="spacingAndGlyphs">Подключение модулей ЛК к приложению</text><path class="c4" d="M162.5,605H231.3"/></g>
<g id="n4b2"><text x="163.5" y="609.6" textLength="46.8" lengthAdjust="spacingAndGlyphs">Функции модулей в приложении</text><path class="c4" d="M162.5,610.5H211.3"/></g>
<g id="n4b3"><text x="163.5" y="615.1" textLength="31.8" lengthAdjust="spacingAndGlyphs">Модели данных в ЛК</text><path class="c4" d="M162.5,616H196.3"/></g>
<g id="n4c"><text x="130.8" y="629.1" textLength="51.2" lengthAdjust="spacingAndGlyphs">Модули, параметры и функции в ЛК модуль</text><path class="c4" d="M129.8,630H183"/><rect class="dot" x="183" y="628.8" width="2.4" height="2.4"/></g>
<g id="n4c1"><text x="189" y="621.1" textLength="19.7" lengthAdjust="spacingAndGlyphs">Вызов модулей</text><path class="c4" d="M188,622H209.7"/></g>
<g id="n4c2"><text x="189" y="626.6" textLength="49.7" lengthAdjust="spacingAndGlyphs">Данные по функциям в модулях</text><path class="c4" d="M188,627.5H239.7"/></g>
<g id="n4c3"><text x="189" y="631.6" textLength="88" lengthAdjust="spacingAndGlyphs">Вызов параметров модулей через мобильное приложение в ЛК</text><path class="c4" d="M188,632.5H278"/></g>
<g id="n4c4"><text x="189" y="636.6" textLength="44.7" lengthAdjust="spacingAndGlyphs">Модели данных в приложении</text><path class="c4" d="M188,637.5H234.7"/></g>
<g id="n4d"><text x="130.8" y="647.1" textLength="39.7" lengthAdjust="spacingAndGlyphs">Данные модели для приложения</text><path class="c4" d="M129.8,648H171.5"/><rect class="dot" x="171.5" y="646.8" width="2.4" height="2.4"/></g>
<g id="n4d1"><text x="177.5" y="641.6" textLength="28.8" lengthAdjust="spacingAndGlyphs">Модели данных в модуле</text><path class="c4" d="M176.5,642.5H207.3"/></g>
<g id="n4d2"><text x="177.5" y="647.1" textLength="21.2" lengthAdjust="spacingAndGlyphs">Функции модели</text><path class="c4" d="M176.5,648H199.7"/></g>
<g id="n4d3"><text x="177.5" y="653.1" textLength="21.2" lengthAdjust="spacingAndGlyphs">Обновление модели</text><path class="c4" d="M176.5,654H199.7"/></g>
<g id="n4e"><text x="130.8" y="664.6" textLength="45.7" lengthAdjust="spacingAndGlyphs">Модули приложения по функциям</text><path class="c4" d="M129.8,665.5H177.5"/><rect class="dot" x="177.5" y="664.3" width="2.4" height="2.4"/></g>
<g id="n4e1"><text x="183.5" y="658.6" textLength="63.5" lengthAdjust="spacingAndGlyphs">Вызов модулей через приложение по функциям</text><path class="c4" d="M182.5,659.5H248"/></g>
<g id="n4e2"><text x="183.5" y="664.6" textLength="30.8" lengthAdjust="spacingAndGlyphs">Функции приложения</text><path class="c4" d="M182.5,665.5H215.3"/></g>
<g id="n4e3"><text x="183.5" y="670.6" textLength="40.2" lengthAdjust="spacingAndGlyphs">Данные модулей в приложении</text><path class="c4" d="M182.5,671.5H224.7"/></g>
<g id="n4f"><text x="130.8" y="679.1" textLength="57.2" lengthAdjust="spacingAndGlyphs">Модели модулей приложения и модели в модулях</text><path class="c4" d="M129.8,680H189"/><rect class="dot" x="189" y="678.8" width="2.4" height="2.4"/></g>
<g id="n4f1"><text x="195" y="675.6" textLength="20.3" lengthAdjust="spacingAndGlyphs">Синхронизация</text><path class="c4" d="M194,676.5H216.3"/></g>
<g id="n4f2"><text x="195" y="682.1" textLength="22" lengthAdjust="spacingAndGlyphs">Обновление данных</text><path class="c4" d="M194,683H218"/></g>
<g id="n4g"><text x="130.8" y="687.6" textLength="48.2" lengthAdjust="spacingAndGlyphs">Публикация приложения в магазинах</text><path class="c4" d="M129.8,688.5H180"/></g>
<g id="root5"><rect class="b c5" x="85" y="740.5" width="55" height="6.5"/><text class="rt" x="87" y="744.9" textLength="51" lengthAdjust="spacingAndGlyphs">Маркетинг и бизнес-аналитика</text><rect class="dot" x="140.8" y="742.3" width="2.4" height="2.4"/></g>
<g id="n5a"><text x="146.5" y="706.1" textLength="35.5" lengthAdjust="spacingAndGlyphs">Аналитика по модулям ЛК</text><path class="c5" d="M145.5,707H183"/><rect class="dot" x="183" y="705.8" width="2.4" height="2.4"/></g>
<g id="n5a1"><text x="189" y="694.1" textLength="33" lengthAdjust="spacingAndGlyphs">Отчёты по пользователям</text><path class="c5" d="M188,695H223"/></g>
<g id="n5a2"><text x="189" y="700.1" textLength="38" lengthAdjust="spacingAndGlyphs">Аналитика по услугам клиентов</text><path class="c5" d="M188,701H228"/></g>
<g id="n5a3"><text x="189" y="706.1" textLength="38" lengthAdjust="spacingAndGlyphs">Данные по модулям в отчётах</text><path class="c5" d="M188,707H228"/></g>
<g id="n5a4"><text x="189" y="712.1" textLength="36.3" lengthAdjust="spacingAndGlyphs">Метрики использования</text><path class="c5" d="M188,713H226.3"/></g>
<g id="n5a5"><text x="189" y="717.6" textLength="38" lengthAdjust="spacingAndGlyphs">Сегменты пользователей</text><path class="c5" d="M188,718.5H228"/></g>
<g id="n5b"><text x="146.5" y="734.1" textLength="30.5" lengthAdjust="spacingAndGlyphs">Маркетинговые кампании</text><path class="c5" d="M145.5,735H178"/><rect class="dot" x="178" y="733.8" width="2.4" height="2.4"/></g>
<g id="n5b1"><text x="184" y="723.1" textLength="26.3" lengthAdjust="spacingAndGlyphs">Email-рассылки</text><path class="c5" d="M183,724H211.3"/></g>
<g id="n5b2"><text x="184" y="729.1" textLength="28" lengthAdjust="spacingAndGlyphs">Push-рассылки</text><path class="c5" d="M183,730H213"/></g>
<g id="n5b3"><text x="184" y="734.1" textLength="29" lengthAdjust="spacingAndGlyphs">Акции и скидки</text><path class="c5" d="M183,735H214"/></g>
<g id="n5b4"><text x="184" y="740.1" textLength="17" lengthAdjust="spacingAndGlyphs">Промокоды</text><path class="c5" d="M183,741H202"/></g>
<g id="n5b5"><text x="184" y="745.6" textLength="68" lengthAdjust="spacingAndGlyphs">Интеграция с внешними системами аналитики</text><path class="c5" d="M183,746.5H253"/></g>
<g id="n5c"><text x="146.5" y="759.6" textLength="21" lengthAdjust="spacingAndGlyphs">Модели в модулях</text><path class="c5" d="M145.5,760.5H168.5"/><rect class="dot" x="168.5" y="759.3" width="2.4" height="2.4"/></g>
<g id="n5c1"><text x="174.5" y="751.1" textLength="40.8" lengthAdjust="spacingAndGlyphs">Воронка продаж по модулям</text><path class="c5" d="M173.5,752H216.3"/></g>
<g id="n5c2"><text x="174.5" y="757.1" textLength="45.8" lengthAdjust="spacingAndGlyphs">Конверсия пользователей в услуги</text><path class="c5" d="M173.5,758H221.3"/></g>
<g id="n5c3"><text x="174.5" y="762.6" textLength="65.2" lengthAdjust="spacingAndGlyphs">Данные для отчётов по маркетинговым каналам</text><path class="c5" d="M173.5,763.5H240.7"/></g>
<g id="n5c4"><text x="174.5" y="768.6" textLength="12.5" lengthAdjust="spacingAndGlyphs">Дашборды</text><path class="c5" d="M173.5,769.5H188"/></g>
<g id="n5d"><text x="146.5" y="784.1" textLength="39.5" lengthAdjust="spacingAndGlyphs">Бизнес-показатели в модели ЛК</text><path class="c5" d="M145.5,785H187"/><rect class="dot" x="187" y="783.8" width="2.4" height="2.4"/></g>
<g id="n5d1"><text x="193" y="773.6" textLength="20.7" lengthAdjust="spacingAndGlyphs">Выручка по услугам</text><path class="c5" d="M192,774.5H214.7"/></g>
<g id="n5d2"><text x="193" y="779.1" textLength="38" lengthAdjust="spacingAndGlyphs">Показатели удержания клиентов</text><path class="c5" d="M192,780H232"/></g>
<g id="n5d3"><text x="193" y="784.1" textLength="29" lengthAdjust="spacingAndGlyphs">Прогноз спроса на услуги</text><path class="c5" d="M192,785H223"/></g>
<g id="n5d4"><text x="193" y="790.6" textLength="96" lengthAdjust="spacingAndGlyphs">Сравнение показателей по периодам, сегментам и каналам привлечения клиентов в</text><text x="193" y="794.7" textLength="3.5" lengthAdjust="spacingAndGlyphs">ЛК</text><path class="c5" d="M192,796H290"/></g>
<g id="n6"><text x="151" y="810.1" textLength="44" lengthAdjust="spacingAndGlyphs">Поддержка и сопровождение</text><path class="c6" d="M150,811H196"/><rect class="dot" x="196" y="809.8" width="2.4" height="2.4"/></g>
<g id="n6a"><text x="202" y="800.1" textLength="13.3" lengthAdjust="spacingAndGlyphs">Техподдержка</text><path class="c6" d="M201,801H216.3"/></g>
<g id="n6b"><text x="202" y="806.1" textLength="38.3" lengthAdjust="spacingAndGlyphs">База знаний и ответы на вопросы</text><path class="c6" d="M201,807H241.3"/></g>
<g id="n6c"><text x="202" y="812.1" textLength="21.7" lengthAdjust="spacingAndGlyphs">Обратная связь</text><path class="c6" d="M201,813H224.7"/></g>
<g id="n6d"><text x="202" y="817.6" textLength="23.3" lengthAdjust="spacingAndGlyphs">Журнал инцидентов</text><path class="c6" d="M201,818.5H226.3"/></g>
<g id="n7a"><text x="190" y="823.6" textLength="23.7" lengthAdjust="spacingAndGlyphs">Обновления системы</text><path class="c6" d="M189,824.5H214.7"/></g>
<g id="n7b"><text x="190" y="829.6" textLength="49.3" lengthAdjust="spacingAndGlyphs">Мониторинг работы сервисов и модулей</text><path class="c6" d="M189,830.5H241.3"/></g>
<g id="n7c"><text x="190" y="835.1" textLength="23.7" lengthAdjust="spacingAndGlyphs">Резервные копии</text><path class="c6" d="M189,836H214.7"/></g>
</svg>
